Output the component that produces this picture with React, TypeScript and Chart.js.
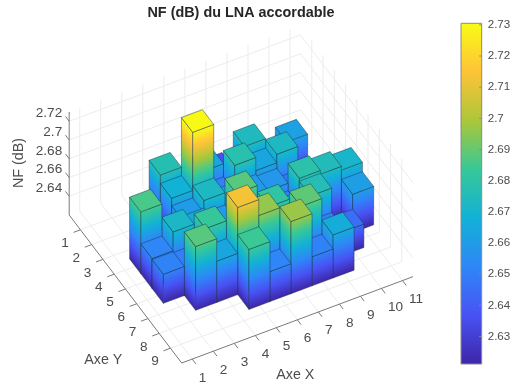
import React, { useEffect, useRef } from "react";
import { Chart, registerables } from "chart.js";
Chart.register(...registerables);

const N: null = null;
// Z value of each bar, by Y row; each row lists X = 1..11
const rowY1 = [N, N, N, N, N, N, 2.636, N, N, N, N];
const rowY2 = [N, N, N, 2.677, N, 2.664, N, 2.674, N, 2.662, N];
const rowY3 = [N, N, N, 2.668, 2.73, 2.65, 2.678, 2.664, 2.673, N, N];
const rowY4 = [N, 2.686, N, 2.66, 2.673, 2.66, 2.66, 2.658, 2.648, N, N];
const rowY5 = [N, 2.652, 2.672, 2.665, 2.66, 2.688, 2.66, 2.65, 2.679, 2.675, 2.671];
const rowY6 = [N, 2.651, 2.65, 2.683, 2.66, 2.67, 2.681, 2.665, 2.676, N, 2.661];
const rowY7 = [N, N, 2.688, 2.664, 2.713, 2.696, 2.66, 2.689, 2.65, 2.645, N];
const rowY8 = [N, N, N, N, 2.684, 2.652, 2.697, 2.651, 2.666, N, N];
const rows = [rowY1, rowY2, rowY3, rowY4, rowY5, rowY6, rowY7, rowY8];

const xTicks = [1, 2, 3, 4, 5, 6, 7, 8, 9, 10, 11];
const yTicks = [1, 2, 3, 4, 5, 6, 7, 8, 9];
const zTicks = [2.64, 2.66, 2.68, 2.7, 2.72];
const zTickLabels = ["2.64", "2.66", "2.68", "2.7", "2.72"];
const cbTicks = [2.63, 2.64, 2.65, 2.66, 2.67, 2.68, 2.69, 2.7, 2.71, 2.72, 2.73];
const cbTickLabels = ["2.63", "2.64", "2.65", "2.66", "2.67", "2.68", "2.69", "2.7", "2.71", "2.72", "2.73"];

const xLim = [0.5, 11.5];
const yLim = [0, 10];
const zLim = [2.62, 2.73];
const cLim = [2.6212, 2.7305];

const parula: number[][] = [
  [62, 38, 168], [72, 82, 244], [46, 135, 247], [18, 177, 214],
  [55, 200, 151], [171, 199, 57], [254, 195, 56], [249, 251, 21],
];

const TITLE = "NF (dB) du LNA accordable";
const TITLE_SIZE = 14.4;
const TITLE_PAD_TOP = 4;
const TITLE_PAD_BOTTOM = 1;
const TITLE_H = TITLE_PAD_TOP + TITLE_SIZE * 1.2 + TITLE_PAD_BOTTOM;
const RIGHT_PAD = 37;
const W = 519;
const H = 390;
const TEXT = "#4d4d4d";
const FONT = "'Liberation Sans', Arial, sans-serif";

function project(x: number, y: number, z: number) {
  return {
    u: 181.7 + 21.03 * (x - xLim[0]) - 11.25 * (yLim[1] - y),
    v: 363 - 7.85 * (x - xLim[0]) - 14.8 * (yLim[1] - y) - 937 * (z - zLim[0]),
  };
}
function parulaAt(t: number) {
  const c = Math.max(0, Math.min(1, t)) * (parula.length - 1);
  const i = Math.min(parula.length - 2, Math.floor(c));
  const f = c - i;
  const m = parula[i].map((a, k) => Math.round(a + (parula[i + 1][k] - a) * f));
  return `rgb(${m[0]},${m[1]},${m[2]})`;
}
const tOf = (z: number) => (z - cLim[0]) / (cLim[1] - cLim[0]);

const bar3dPlugin = {
  id: "bar3d",
  afterDraw(chart: any) {
    const ctx: CanvasRenderingContext2D = chart.ctx;
    const sx = chart.scales.x;
    const sy = chart.scales.y;
    const P = (x: number, y: number, z: number) => {
      const p = project(x, y, z);
      return [sx.getPixelForValue(p.u), sy.getPixelForValue(p.v)];
    };
    const seg = (a: number[], b: number[]) => {
      ctx.beginPath();
      ctx.moveTo(a[0], a[1]);
      ctx.lineTo(b[0], b[1]);
      ctx.stroke();
    };
    ctx.save();
    // grid
    ctx.strokeStyle = "#ececec";
    ctx.lineWidth = 1;
    const [x0, x1] = xLim, [y0, y1] = yLim, [z0, z1] = zLim;
    for (const x of xTicks) {
      seg(P(x, y0, z0), P(x, y1, z0));
      seg(P(x, y0, z0), P(x, y0, z1));
    }
    for (const y of yTicks) {
      seg(P(x0, y, z0), P(x1, y, z0));
      seg(P(x1, y, z0), P(x1, y, z1));
    }
    for (const z of zTicks) {
      seg(P(x0, y0, z), P(x1, y0, z));
      seg(P(x1, y0, z), P(x1, y1, z));
    }
    // axes
    ctx.strokeStyle = "#7a7a7a";
    seg(P(x0, y1, z0), P(x1, y1, z0));
    seg(P(x0, y1, z0), P(x0, y0, z0));
    seg(P(x0, y0, z0), P(x0, y0, z1));
    for (const x of xTicks) seg(P(x, y1, z0), P(x, y1 + 0.33, z0));
    for (const y of yTicks) seg(P(x0, y, z0), P(x0 - 0.33, y, z0));
    for (const z of zTicks) seg(P(x0, y0, z), P(x0, y0 - 0.33, z));

    // bars, far to near
    const face = (a: number[], b: number[], h: number, z: number) => {
      // a, b: lower edge; gradient runs across constant-z lines
      const ex = b[0] - a[0], ey = b[1] - a[1];
      const nx = -ey, ny = ex;
      const k = (-h * ny) / (nx * nx + ny * ny);
      const g = ctx.createLinearGradient(a[0], a[1], a[0] + nx * k, a[1] + ny * k);
      const top = tOf(z);
      const n = parula.length - 1;
      g.addColorStop(0, parulaAt(0));
      for (let i = 1; i <= n; i++) {
        if (i / n < top) g.addColorStop(i / n / top, parulaAt(i / n));
      }
      g.addColorStop(1, parulaAt(top));
      ctx.fillStyle = g;
      ctx.beginPath();
      ctx.moveTo(a[0], a[1]);
      ctx.lineTo(b[0], b[1]);
      ctx.lineTo(b[0], b[1] - h);
      ctx.lineTo(a[0], a[1] - h);
      ctx.closePath();
      ctx.fill();
      ctx.stroke();
    };
    ctx.strokeStyle = "rgba(25,55,70,0.6)";
    ctx.lineWidth = 0.8;
    ctx.lineJoin = "round";
    for (let xi = xTicks.length - 1; xi >= 0; xi--) {
      for (let yi = 0; yi < rows.length; yi++) {
        const z = rows[yi][xi];
        if (z === null) continue;
        const x = xi + 1, y = yi + 1;
        const L = P(x - 0.5, y - 0.5, z0), F = P(x - 0.5, y + 0.5, z0), R = P(x + 0.5, y + 0.5, z0);
        const tL = P(x - 0.5, y - 0.5, z), tF = P(x - 0.5, y + 0.5, z), tR = P(x + 0.5, y + 0.5, z), tB = P(x + 0.5, y - 0.5, z);
        const h = F[1] - tF[1];
        face(L, F, h, z);
        face(F, R, h, z);
        ctx.fillStyle = parulaAt(tOf(z));
        ctx.beginPath();
        ctx.moveTo(tL[0], tL[1]);
        ctx.lineTo(tF[0], tF[1]);
        ctx.lineTo(tR[0], tR[1]);
        ctx.lineTo(tB[0], tB[1]);
        ctx.closePath();
        ctx.fill();
        ctx.stroke();
      }
    }

    // tick labels
    ctx.fillStyle = TEXT;
    ctx.textBaseline = "middle";
    ctx.font = `13.6px ${FONT}`;
    ctx.textAlign = "left";
    xTicks.forEach((x) => {
      const p = P(x, y1, z0);
      ctx.fillText(String(x), p[0] + 6.5, p[1] + 18.7);
    });
    ctx.textAlign = "center";
    yTicks.forEach((y) => {
      const p = P(x0, y, z0);
      ctx.fillText(String(y), p[0] - 15.5, p[1] + 13.5);
    });
    ctx.textAlign = "right";
    zTicks.forEach((z, i) => {
      const p = P(x0, y0, z);
      ctx.fillText(zTickLabels[i], p[0] - 7, p[1] - 8);
    });
    // axis titles
    ctx.font = `14.3px ${FONT}`;
    ctx.textAlign = "center";
    ctx.fillText("Axe X", sx.getPixelForValue(295.3), sy.getPixelForValue(375));
    ctx.fillText("Axe Y", sx.getPixelForValue(103.3), sy.getPixelForValue(360));
    ctx.save();
    ctx.translate(sx.getPixelForValue(19), sy.getPixelForValue(163));
    ctx.rotate(-Math.PI / 2);
    ctx.fillText("NF (dB)", 0, 0);
    ctx.restore();

    // colour bar
    const cbL = sx.getPixelForValue(461), cbR = sx.getPixelForValue(481.7);
    const cbTop = sy.getPixelForValue(23.3), cbBot = sy.getPixelForValue(364);
    const cg = ctx.createLinearGradient(0, cbBot, 0, cbTop);
    parula.forEach((c, i) => cg.addColorStop(i / (parula.length - 1), `rgb(${c[0]},${c[1]},${c[2]})`));
    ctx.fillStyle = cg;
    ctx.fillRect(cbL, cbTop, cbR - cbL, cbBot - cbTop);
    ctx.strokeStyle = "#8a8a8a";
    ctx.lineWidth = 1;
    ctx.strokeRect(cbL, cbTop, cbR - cbL, cbBot - cbTop);
    ctx.font = `11.6px ${FONT}`;
    ctx.textAlign = "left";
    ctx.fillStyle = TEXT;
    cbTicks.forEach((c, i) => {
      const yy = cbBot + ((c - cLim[0]) / (cLim[1] - cLim[0])) * (cbTop - cbBot);
      seg([cbR - 2.5, yy], [cbR, yy]);
      ctx.fillText(cbTickLabels[i], cbR + 6, yy);
    });
    ctx.restore();
  },
};

export default function App() {
  const ref = useRef<HTMLCanvasElement>(null);
  useEffect(() => {
    const chart = new Chart(ref.current as HTMLCanvasElement, {
      type: "scatter",
      data: { datasets: [{ data: [], pointRadius: 0 }] },
      options: {
        animation: false,
        responsive: false,
        layout: { padding: { right: RIGHT_PAD } },
        scales: {
          x: { type: "linear", display: false, min: 0, max: W - RIGHT_PAD },
          y: { type: "linear", display: false, min: TITLE_H, max: H, reverse: true },
        },
        plugins: {
          legend: { display: false },
          tooltip: { enabled: false },
          title: {
            display: true,
            text: TITLE,
            fullSize: false,
            color: "#262626",
            font: { family: FONT, size: TITLE_SIZE, weight: "bold", lineHeight: 1.2 },
            padding: { top: TITLE_PAD_TOP, bottom: TITLE_PAD_BOTTOM },
          },
        },
      },
      plugins: [bar3dPlugin],
    } as any);
    return () => chart.destroy();
  }, []);
  return (
    <div style={{ position: "absolute", left: 0, top: 0, width: W, height: H, background: "#fff" }}>
      <canvas ref={ref} width={W} height={H} style={{ display: "block", filter: "blur(0.35px)" }} />
    </div>
  );
}
